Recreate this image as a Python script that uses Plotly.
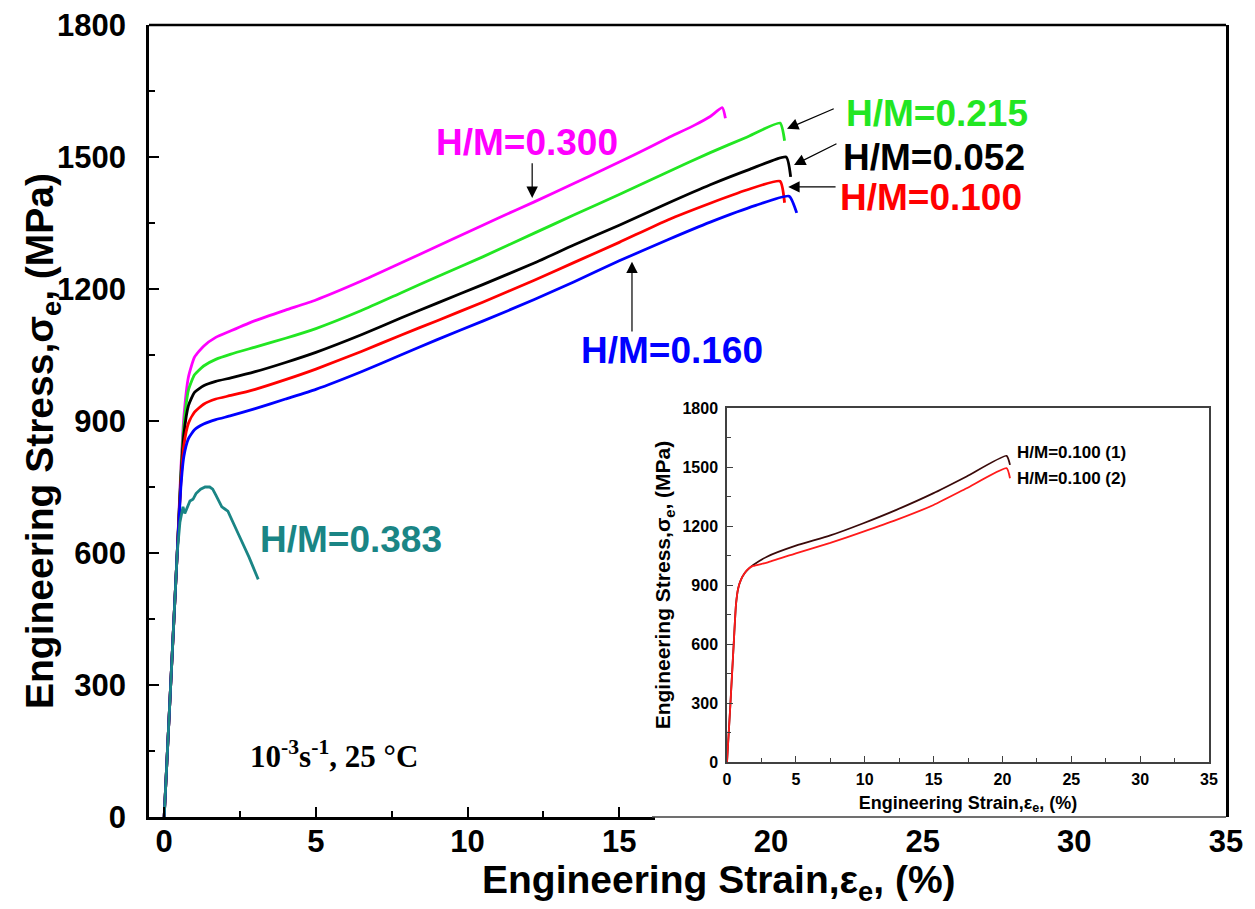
import plotly.graph_objects as go

# ---------------- data ----------------
strain_300 = [0, 0.2, 0.43, 0.55, 0.65, 0.8, 1.0, 1.3, 1.7, 2.2, 3.0, 4.0, 5.0, 6.5, 7.8, 9.0,
              10.0, 11.0, 12.2, 13.5, 14.5, 15.5, 16.6, 17.5, 18.0, 18.4, 18.5]
stress_300 = [0, 280, 600, 790, 910, 1000, 1045, 1070, 1090, 1105, 1128, 1152, 1175, 1218, 1259, 1297,
              1329, 1361, 1398, 1440, 1472, 1505, 1543, 1573, 1592, 1612, 1588]

strain_215 = [0, 0.2, 0.43, 0.55, 0.65, 0.8, 1.0, 1.3, 1.7, 2.2, 3.0, 4.0, 5.0, 6.5, 7.8, 9.0,
              10.5, 12.2, 13.5, 15.0, 16.6, 18.0, 19.2, 20.3, 20.45]
stress_215 = [0, 280, 600, 780, 890, 970, 1005, 1025, 1040, 1052, 1068, 1088, 1110, 1151, 1191, 1228,
              1273, 1327, 1368, 1415, 1466, 1510, 1545, 1577, 1537]

strain_052 = [0, 0.2, 0.43, 0.55, 0.65, 0.8, 1.0, 1.3, 1.7, 2.2, 3.0, 4.0, 5.0, 6.5, 7.8, 9.0,
              10.5, 12.2, 13.5, 15.0, 16.6, 18.0, 19.3, 20.5, 20.65]
stress_052 = [0, 280, 600, 770, 870, 935, 965, 980, 990, 998, 1012, 1033, 1056, 1096, 1134, 1168,
              1210, 1259, 1300, 1345, 1395, 1437, 1472, 1500, 1455]

strain_100 = [0, 0.2, 0.43, 0.55, 0.65, 0.8, 1.0, 1.3, 1.7, 2.2, 3.0, 4.0, 5.0, 6.5, 7.8, 9.0,
              10.5, 12.2, 13.5, 15.0, 16.6, 18.0, 19.2, 20.3, 20.45]
stress_100 = [0, 280, 600, 760, 845, 895, 920, 938, 950, 958, 972, 994, 1018, 1058, 1095, 1128,
              1170, 1220, 1260, 1306, 1357, 1395, 1425, 1445, 1396]

strain_160 = [0, 0.2, 0.43, 0.55, 0.65, 0.8, 1.0, 1.3, 1.7, 2.2, 3.0, 4.0, 5.0, 6.5, 7.8, 9.0,
              10.5, 12.2, 13.5, 15.0, 16.6, 18.0, 19.5, 20.6, 20.85]
stress_160 = [0, 280, 600, 750, 820, 860, 880, 893, 903, 912, 928, 950, 972, 1012, 1050, 1085,
              1127, 1176, 1216, 1264, 1312, 1352, 1390, 1411, 1373]

strain_383 = [0, 0.2, 0.43, 0.52, 0.58, 0.62, 0.68, 0.75, 0.85, 0.95, 1.05, 1.2, 1.35, 1.5, 1.6,
              1.7, 1.8, 1.9, 2.0, 2.1, 2.4, 2.8, 3.1]
stress_383 = [0, 280, 600, 670, 695, 705, 690, 700, 718, 722, 735, 745, 750, 750, 745,
              732, 718, 705, 700, 695, 650, 590, 540]

# inset: two repeats of H/M = 0.100
inset_strain_1 = [0, 0.25, 0.5, 0.65, 0.8, 1.0, 1.3, 1.6, 1.9, 2.9, 5.0, 7.5, 9.9, 12.3, 15.0, 17.4, 20.3, 20.55]
inset_stress_1 = [0, 300, 620, 800, 880, 925, 962, 985, 1002, 1044, 1100, 1152, 1214, 1282, 1367, 1452, 1557, 1511]
inset_strain_2 = [0, 0.25, 0.5, 0.65, 0.8, 1.0, 1.3, 1.6, 1.9, 2.9, 5.0, 7.5, 9.9, 12.3, 15.0, 17.4, 20.3, 20.55]
inset_stress_2 = [0, 300, 620, 800, 880, 925, 962, 985, 997, 1014, 1061, 1114, 1171, 1231, 1307, 1392, 1494, 1443]

series = [
    ("H/M=0.300", strain_300, stress_300, "#ff00ff", "spline"),
    ("H/M=0.215", strain_215, stress_215, "#22e622", "spline"),
    ("H/M=0.052", strain_052, stress_052, "#000000", "spline"),
    ("H/M=0.100", strain_100, stress_100, "#ff0000", "spline"),
    ("H/M=0.160", strain_160, stress_160, "#0000ff", "spline"),
    ("H/M=0.383", strain_383, stress_383, "#1a8585", "linear"),
]

x_ticks = [0, 5, 10, 15, 20, 25, 30, 35]
y_ticks = [0, 300, 600, 900, 1200, 1500, 1800]

# ---------------- figure ----------------
W, H = 1255, 909
ML, MR, MT, MB = 149, 29, 25, 92
plot_w = W - ML - MR
plot_h = H - MT - MB
x_min, x_max = -0.5, 35
px_per_unit = plot_w / (x_max - x_min)
cut_px = 652 - ML                      # bottom axis line ends where inset box starts
cut_frac = cut_px / plot_w
cut_val = x_min + cut_px / px_per_unit

fig = go.Figure()
for name, xs, ys, col, shp in series:
    fig.add_trace(go.Scatter(x=xs, y=ys, mode="lines", name=name,
                             line=dict(color=col, width=2.8, shape=shp, smoothing=0.5),
                             xaxis="x", yaxis="y"))

# dummy trace creating the partial bottom axis subplot
fig.add_trace(go.Scatter(x=[None], y=[None], xaxis="x3", yaxis="y", showlegend=False,
                         hoverinfo="skip"))

# inset traces
fig.add_trace(go.Scatter(x=inset_strain_1, y=inset_stress_1, mode="lines", name="H/M=0.100 (1)",
                         line=dict(color="#3a0a0a", width=1.8, shape="spline", smoothing=0.5),
                         xaxis="x2", yaxis="y2"))
fig.add_trace(go.Scatter(x=inset_strain_2, y=inset_stress_2, mode="lines", name="H/M=0.100 (2)",
                         line=dict(color="#ff1a1a", width=1.8, shape="spline", smoothing=0.5),
                         xaxis="x2", yaxis="y2"))

bold = dict(family="Liberation Sans, Arial", color="black", weight="bold")

fig.update_layout(
    width=W, height=H,
    margin=dict(l=ML, r=MR, t=MT, b=MB, autoexpand=False),
    paper_bgcolor="white", plot_bgcolor="rgba(0,0,0,0)",
    showlegend=False,
    xaxis=dict(domain=[0, 1], range=[x_min, x_max], tickvals=x_ticks,
               showline=False, ticks="", showgrid=False, zeroline=False,
               tickfont=dict(size=31, **bold), ticklabelstandoff=3),
    xaxis3=dict(domain=[0, cut_frac], range=[x_min, cut_val], anchor="y",
                showline=True, linecolor="black", linewidth=2.5,
                ticks="inside", ticklen=10, tickwidth=2, tickcolor="black",
                tickvals=[0, 5, 10, 15], showticklabels=False,
                minor=dict(ticks="inside", ticklen=6, tickwidth=2, tickcolor="black",
                           tickvals=[2.5, 7.5, 12.5]),
                showgrid=False, zeroline=False),
    yaxis=dict(domain=[0, 1], range=[0, 1800], tickvals=y_ticks,
               showline=True, mirror=True, linecolor="black", linewidth=2.5,
               ticks="inside", ticklen=10, tickwidth=2, tickcolor="black",
               minor=dict(ticks="inside", ticklen=6, tickwidth=2, tickcolor="black",
                          dtick=150, tick0=0),
               showgrid=False, zeroline=False,
               tickfont=dict(size=31, **bold), ticklabelstandoff=14),
    xaxis2=dict(domain=[0.5367, 0.9842], range=[0, 35], dtick=5, tick0=0, anchor="y2",
                showline=True, mirror=True, linecolor="#404040", linewidth=1.5,
                ticks="inside", ticklen=6, tickwidth=1.2, tickcolor="#404040",
                minor=dict(ticks="inside", ticklen=4, tickwidth=1.2, tickcolor="#404040",
                           dtick=2.5, tick0=0),
                showgrid=False, zeroline=False,
                tickfont=dict(size=16, **bold), ticklabelstandoff=2,
                title=dict(text="Engineering Strain,ε<sub>e</sub>, (%)",
                           font=dict(size=18, **bold), standoff=9)),
    yaxis2=dict(domain=[0.0694, 0.5164], range=[0, 1800], dtick=300, tick0=0, anchor="x2",
                showline=True, mirror=True, linecolor="#404040", linewidth=1.5,
                ticks="inside", ticklen=6, tickwidth=1.2, tickcolor="#404040",
                minor=dict(ticks="inside", ticklen=4, tickwidth=1.2, tickcolor="#404040",
                           dtick=150, tick0=0),
                showgrid=False, zeroline=False,
                tickfont=dict(size=16, **bold), ticklabelstandoff=4,
                title=dict(text="Engineering Stress,σ<sub>e</sub>, (MPa)",
                           font=dict(size=21, **bold), standoff=6)),
)

# main axis titles (placed as in the reference, slightly off-centre)
fig.add_annotation(text="Engineering Strain,ε<sub>e</sub>, (%)", showarrow=False,
                   xref="paper", yref="paper", x=(719 - ML) / plot_w, y=-(883 - (H - MB)) / plot_h,
                   xanchor="center", yanchor="middle", font=dict(size=39, **bold))
fig.add_annotation(text="Engineering Stress,σ<sub>e</sub>, (MPa)", showarrow=False, textangle=-90,
                   xref="paper", yref="paper", x=-(ML - 42) / plot_w, y=((H - MB) - 441) / plot_h,
                   xanchor="center", yanchor="middle", font=dict(size=39, **bold))

# frame: top border of main plot, bottom edge of inset box
fig.add_shape(type="line", xref="paper", yref="paper", x0=0, x1=1, y0=1, y1=1,
              line=dict(color="black", width=2.5))
fig.add_shape(type="line", xref="paper", yref="paper", x0=cut_frac, x1=1, y0=0, y1=0,
              line=dict(color="#404040", width=1.5))

# curve labels
labels = [
    ("H/M=0.300", 11.96, 1534, "#ff00ff", "center"),
    ("H/M=0.215", 22.4, 1600, "#22e622", "left"),
    ("H/M=0.052", 22.3, 1500, "#000000", "left"),
    ("H/M=0.100", 22.2, 1409, "#ff0000", "left"),
    ("H/M=0.160", 16.75, 1060, "#0000ff", "center"),
    ("H/M=0.383", 6.15, 630, "#1a8585", "center"),
]
for txt, lx, ly, col, anc in labels:
    fig.add_annotation(x=lx, y=ly, xref="x", yref="y", text=txt, showarrow=False,
                       xanchor=anc, yanchor="middle",
                       font=dict(family="Liberation Sans, Arial", size=37, color=col, weight="bold"))

# arrows (tip on curve, tail near label)
arrows = [
    (20.53, 1564, 22.12, 1611),
    (20.76, 1482, 22.21, 1532),
    (20.57, 1432, 22.18, 1432),
    (12.13, 1407, 12.13, 1489),
    (15.42, 1262, 15.42, 1100),
]
for tx, ty, ax, ay in arrows:
    fig.add_annotation(x=tx, y=ty, ax=ax, ay=ay, xref="x", yref="y", axref="x", ayref="y",
                       text="", showarrow=True, arrowhead=2, arrowsize=1.9, arrowwidth=1.2,
                       arrowcolor="black")

# test condition
fig.add_annotation(x=5.6, y=142, xref="x", yref="y", showarrow=False,
                   text="10<sup>-3</sup>s<sup>-1</sup>, 25 °C",
                   font=dict(family="Liberation Serif, Times New Roman", size=31,
                             color="black", weight="bold"))

# inset labels
fig.add_annotation(x=20.9, y=1576, xref="x2", yref="y2", text="H/M=0.100 (1)", showarrow=False,
                   xanchor="left", font=dict(size=17, **bold))
fig.add_annotation(x=20.9, y=1444, xref="x2", yref="y2", text="H/M=0.100 (2)", showarrow=False,
                   xanchor="left", font=dict(size=17, **bold))

fig.write_html("out.html", config={"displayModeBar": False},
               post_script="document.body.style.margin='0';")
